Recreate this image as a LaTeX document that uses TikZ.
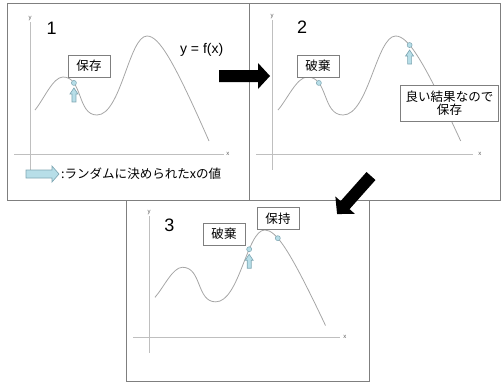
\documentclass[tikz,border=0pt]{standalone}
\usepackage{fontspec}
\setmainfont{Liberation Sans}
\newfontfamily\jp{Noto Sans CJK JP}
\usetikzlibrary{calc}
\definecolor{bordo}{HTML}{7F7F7F}
\definecolor{grigioassi}{HTML}{BFBFBF}
\definecolor{grigiocurva}{HTML}{A6A6A6}
\definecolor{grigiotesto}{HTML}{595959}
\definecolor{azzurro}{HTML}{B7DEE8}
\definecolor{azzurroscuro}{HTML}{7FA7B3}
\tikzset{
  cornice/.style={draw=bordo, line width=0.75pt},
  asse/.style={draw=grigioassi, line width=0.6pt},
  curva/.style={draw=grigiocurva, line width=0.6pt},
  etichetta/.style={text=grigiotesto, font=\fontsize{4.5}{5}\selectfont, inner sep=0.8pt},
  numero/.style={font=\fontsize{13.5}{15}\selectfont, inner sep=0pt},
  riquadro/.style={draw=bordo, fill=white, line width=0.6pt, font=\jp\fontsize{9.4}{10}\selectfont,
    minimum width=31.5pt, minimum height=16.5pt, inner sep=1pt},
  punto/.style={circle, draw=azzurroscuro, fill=azzurro, line width=0.4pt, inner sep=0pt, minimum size=3.75pt},
  freccia/.style={draw=azzurroscuro, fill=azzurro, line width=0.5pt, line join=miter}
}
% la curva y = f(x), coordinate locali con y verso l'alto
\newcommand{\effe}[1]{
  % #1 = prefisso dei punti segnati sulla curva
  \draw[curva] (0,0) .. controls (9,11) and (18,33) .. (28,33)
    .. controls (48,33) and (42,-5) .. (62,-5) coordinate[pos=0.25] (#1a)
    .. controls (86,-5) and (94,74) .. (112,74) coordinate[pos=0.66] (#1b)
    .. controls (124,74) and (138.4,50) .. (174,-31) coordinate[pos=0.33] (#1c);
}
% freccina azzurra sotto un punto
\newcommand{\freccina}[1]{
  \draw[freccia] ($#1+(0,5)$) -- ++(4,6) -- ++(-2,0) -- ++(0,8) -- ++(-4,0) -- ++(0,-8) -- ++(-2,0) -- cycle;
}
% freccia nera grande: #1 = coda, #2 = angolo (sulla pagina, antiorario)
\newcommand{\frecciona}[2]{
  \fill[black, shift={#1}, rotate=#2] (0,-6) -- (39,-6) -- (39,-13) -- (51,0) -- (39,13) -- (39,6) -- (0,6) -- cycle;
}

\begin{document}
\begin{tikzpicture}[x=0.75pt,y=-0.75pt]
  \useasboundingbox (0,0) rectangle (502,383);

  % ---- Riquadri ----------------------------------------------------------
  \draw[cornice] (7,3) rectangle (249,200);
  \draw[cornice] (249,3) rectangle (500,200);
  \draw[cornice] (126,200) rectangle (369,381);

  % ---- Pannello 1 --------------------------------------------------------
  \draw[asse] (30,22) -- (30,170);
  \draw[asse] (14,154) -- (224,154);
  \node[etichetta, anchor=south] (y1) at (30,22) {y};
  \node[etichetta, anchor=west] (x1) at (225,154) {x};
  \node[numero] (n1) at (51.7,28) {1};
  \node[font=\fontsize{10.5}{12}\selectfont] (f1) at (201.7,50) {y = f(x)};
  \begin{scope}[shift={(35,110)}, yscale=-1]
    \effe{p1}
  \end{scope}
  \node[riquadro] (salva1) at (89,66) {保存};
  \node[punto] (d1) at (p1a) {};
  \freccina{(p1a)}

  % legenda
  \draw[freccia] (26,170) -- (52,170) -- (52,166) -- (59,174) -- (52,182) -- (52,178) -- (26,178) -- cycle;
  \node[anchor=west, font=\jp\fontsize{9.4}{10}\selectfont, inner sep=1pt] (legenda) at (59.5,174)
    {:ランダムに決められたxの値};

  % ---- Pannello 2 --------------------------------------------------------
  \draw[asse] (272,20) -- (272,170);
  \draw[asse] (256,154) -- (473,154);
  \node[etichetta, anchor=south] (y2) at (272,20) {y};
  \node[etichetta, anchor=west] (x2) at (477,154) {x};
  \node[numero] (n2) at (302,27) {2};
  \begin{scope}[shift={(278,110)}, xscale=1.05, yscale=-1]
    \effe{p2}
  \end{scope}
  \node[riquadro] (scarta2) at (318,66) {破棄};
  \node[riquadro, minimum width=74pt, minimum height=27pt, align=center] (buono) at (449.5,103)
    {良い結果なので\\保存};
  \node[punto] (d2a) at (p2a) {};
  \node[punto] (d2c) at (p2c) {};
  \freccina{(p2c)}

  % ---- Pannello 3 --------------------------------------------------------
  \draw[asse] (149,216) -- (149,353);
  \draw[asse] (133,337) -- (340,337);
  \node[etichetta, anchor=south] (y3) at (149,216) {y};
  \node[etichetta, anchor=west] (x3) at (342,337) {x};
  \node[numero] (n3) at (169.3,225) {3};
  \begin{scope}[shift={(155,297.3)}, xscale=0.98, yscale=-0.91]
    \effe{p3}
  \end{scope}
  \node[riquadro] (scarta3) at (224,234) {破棄};
  \node[riquadro] (tieni3) at (278,218.5) {保持};
  \node[punto] (d3b) at (p3b) {};
  \node[punto] (d3c) at (p3c) {};
  \freccina{(p3b)}

  % ---- Frecce nere tra i pannelli ---------------------------------------
  \frecciona{(219,76)}{0}
  \frecciona{(371,176)}{-131.7}

\end{tikzpicture}
\end{document}
